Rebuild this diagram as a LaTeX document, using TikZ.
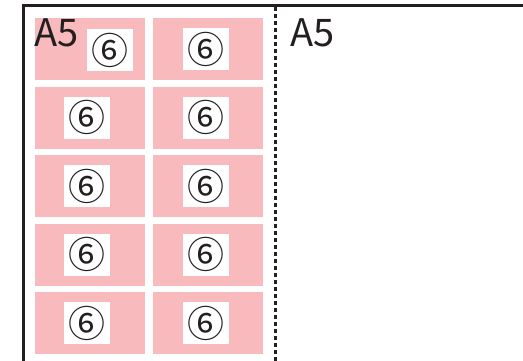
\documentclass[tikz,border=0pt]{standalone}
\usepackage{fontspec}
\setmainfont{Noto Sans CJK JP}
\newfontfamily\circfont{Noto Sans CJK JP}
\definecolor{cellpink}{RGB}{249,186,190}
\definecolor{framegray}{RGB}{35,31,32}
\begin{document}
\begin{tikzpicture}[x=1pt,y=-1pt,
  cell/.style={fill=cellpink,draw=none,minimum width=110pt,minimum height=62pt,inner sep=0pt,anchor=north west},
  mark6/.style={fill=white,draw=none,minimum width=46pt,minimum height=42pt,inner sep=0pt,font=\circfont\fontsize{37}{37}\selectfont,text=framegray},
  label5/.style={font=\fontsize{38}{38}\selectfont,text=framegray,inner sep=0pt,anchor=north west},
  frame/.style={draw=framegray,line width=3pt},
  fold/.style={draw=framegray,line width=2.2pt,dash pattern=on 4pt off 3pt}]
\useasboundingbox (0,0) rectangle (523,361);
\coordinate (fa) at (23,363);
\coordinate (fb) at (23,6);
\coordinate (fc) at (525,6);
\draw[frame] (fa) -- (fb) -- (fc);
\foreach \r/\y in {1/18,2/86.5,3/155,4/223.5,5/292}{
  \node[cell] (c1r\r) at (35,\y) {};
  \node[cell] (c2r\r) at (153,\y) {};
}
\node[mark6] (m1r1) at (110,50) {⑥};
\foreach \r in {2,3,4,5}{
  \node[mark6] (m1r\r) at ([xshift=-3pt]c1r\r.center) {⑥};
}
\foreach \r in {1,2,3,4,5}{
  \node[mark6] (m2r\r) at ([xshift=-2pt]c2r\r.center) {⑥};
}
\node[label5] (a5l) at (34,18) {A5};
\node[label5] (a5r) at (290,18) {A5};
\coordinate (d1) at (275.5,7);
\coordinate (d2) at (275.5,361);
\draw[fold] (d1) -- (d2);
\end{tikzpicture}
\end{document}
